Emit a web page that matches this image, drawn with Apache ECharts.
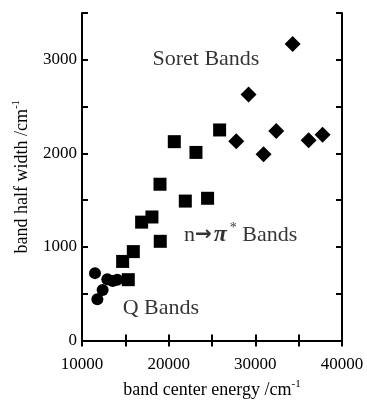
<!DOCTYPE html>
<html>
<head>
<meta charset="utf-8">
<script src="https://cdn.jsdelivr.net/npm/echarts@6/dist/echarts.min.js"></script>
<style>
  html, body { margin: 0; padding: 0; background: #fff; }
  #chart { width: 367px; height: 404px; }
</style>
</head>
<body>
<div id="chart"></div>
<script>
// Q bands (circles)
const qBands = [
  [11500, 720], [11770, 440], [12380, 540], [12920, 655], [13540, 635], [14070, 650]
];
// n -> pi* bands (squares)
const npiBands = [
  [14690, 845], [15340, 650], [15920, 950], [16880, 1265], [18070, 1320],
  [19000, 1670], [19030, 1060], [20650, 2125], [21920, 1490], [23150, 2010],
  [24490, 1520], [25880, 2250]
];
// Soret bands (diamonds)
const soretBands = [
  [27800, 2130], [29220, 2630], [30950, 1990], [32410, 2240], [34300, 3170],
  [36150, 2140], [37760, 2200]
];
// annotation labels [x, y, text]
const annotations = [
  [24300, 3010, 'Soret Bands'],
  [28300, 1130, 'npi'],
  [19100, 350, 'Q Bands']
];

const serif = '"Liberation Serif", "DejaVu Serif", serif';
const frameLine = { show: true, lineStyle: { color: '#000', width: 2 } };
const inTicks = { show: true, inside: true, length: 6, lineStyle: { color: '#000', width: 2 } };
const nameRich = {
  t: { fontFamily: serif, fontSize: 18, color: '#000' },
  s: { fontFamily: serif, fontSize: 11, color: '#000', verticalAlign: 'top', padding: [0, 0, 12, 0] }
};

const chart = echarts.init(document.getElementById('chart'));
chart.setOption({
  animation: false,
  grid: { left: 82, right: 25, top: 13, bottom: 56 },
  xAxis: [
    {
      type: 'value', min: 10000, max: 40000, interval: 5000,
      name: '{t|band center energy /cm}{s|-1}',
      nameLocation: 'middle', nameGap: 38,
      nameTextStyle: { rich: nameRich },
      axisLine: frameLine, axisTick: inTicks, splitLine: { show: false },
      axisLabel: {
        fontFamily: serif, fontSize: 17, color: '#000', margin: 16,
        formatter: v => (v % 10000 === 0 ? String(v) : '')
      }
    },
    {
      type: 'value', position: 'top', min: 10000, max: 40000, interval: 5000,
      axisLine: frameLine, axisTick: inTicks, axisLabel: { show: false }, splitLine: { show: false }
    }
  ],
  yAxis: [
    {
      type: 'value', min: 0, max: 3500, interval: 500,
      name: '{t|band half width /cm}{s|-1}',
      nameLocation: 'middle', nameGap: 48, nameRotate: 90,
      nameTextStyle: { rich: nameRich },
      axisLine: frameLine, axisTick: inTicks, splitLine: { show: false },
      axisLabel: {
        fontFamily: serif, fontSize: 17, color: '#000', margin: 5,
        formatter: v => (v % 1000 === 0 ? String(v) : '')
      }
    },
    {
      type: 'value', position: 'right', min: 0, max: 3500, interval: 500,
      axisLine: frameLine, axisTick: inTicks, axisLabel: { show: false }, splitLine: { show: false }
    }
  ],
  series: [
    {
      type: 'scatter', data: qBands, symbol: 'circle', symbolSize: 12,
      itemStyle: { color: '#000', opacity: 1 }
    },
    {
      type: 'scatter', data: npiBands, symbol: 'rect', symbolSize: 13,
      itemStyle: { color: '#000', opacity: 1 }
    },
    {
      type: 'scatter', data: soretBands, symbol: 'diamond', symbolSize: [16, 16],
      itemStyle: { color: '#000', opacity: 1 }
    },
    {
      type: 'scatter', symbolSize: 0, silent: true,
      data: annotations.map(a => ({ value: [a[0], a[1]], name: a[2] })),
      label: {
        show: true, position: 'inside', color: '#000',
        fontFamily: serif, fontSize: 22,
        formatter: p => p.name === 'npi'
          ? '{n|n}{a|\u2192}{pi|\u03c0}{s|*}{n| Bands}'
          : p.name,
        rich: {
          n: { fontFamily: serif, fontSize: 22, color: '#000' },
          a: { fontFamily: '"DejaVu Sans"', fontSize: 20, fontWeight: 'bold', color: '#000', padding: [0, 2, 0, 0] },
          pi: { fontFamily: serif, fontSize: 24, fontWeight: 'bold', fontStyle: 'italic', color: '#000' },
          s: { fontFamily: serif, fontSize: 14, color: '#000', verticalAlign: 'top', padding: [0, 0, 12, 3] }
        }
      }
    }
  ]
});
</script>
</body>
</html>
